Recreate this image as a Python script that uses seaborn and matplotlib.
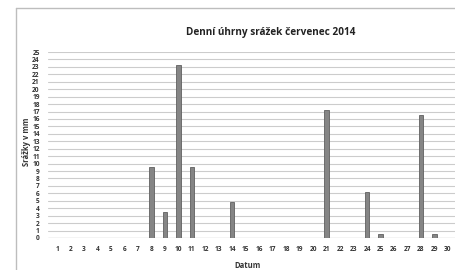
import matplotlib
matplotlib.use("Agg")
import matplotlib.pyplot as plt
import seaborn as sns
import pandas as pd
from matplotlib.lines import Line2D

# daily precipitation, July 2014
days = list(range(1, 31))
rain = [0, 0, 0, 0, 0, 0, 0, 9.6, 3.5, 23.2,
        9.6, 0, 0, 4.8, 0, 0, 0, 0, 0, 0,
        17.2, 0, 0, 6.2, 0.6, 0, 0, 16.5, 0.6, 0]
title = "Denní úhrny srážek červenec 2014"
xlabel = "Datum"
ylabel = "Srážky v mm"

df = pd.DataFrame({"den": days, "mm": rain})

sns.set_style("white")
plt.rcParams["font.family"] = ["Open Sans", "DejaVu Sans"]

W, H = 456, 270
fig = plt.figure(figsize=(W / 100, H / 100), dpi=100)
ax = fig.add_axes([48 / W, (H - 238) / H, (W - 48) / W, (238 - 52) / H])

sns.barplot(data=df, x="den", y="mm", order=days, color="#858585",
            width=0.33, edgecolor="#606060", linewidth=0.6, saturation=1,
            ax=ax, zorder=3)

ax.set_xlim(-0.67, 29.6)
ax.set_ylim(0, 25)
ax.set_yticks(range(0, 26))
ax.yaxis.grid(True, color="#cccccc", linewidth=0.8, zorder=0)
ax.set_axisbelow(True)
for s in ax.spines.values():
    s.set_visible(False)
ax.axhline(0, color="#c0c0c0", linewidth=0.9, zorder=1)

ax.tick_params(axis="both", length=0, labelsize=4.7, colors="#333333")
ax.tick_params(axis="y", pad=6)
ax.tick_params(axis="x", pad=6)
for lab in ax.get_xticklabels() + ax.get_yticklabels():
    lab.set_fontweight("bold")

ax.set_xlabel("")
ax.set_ylabel("")
fig.text(248 / W, 1 - 265 / H, xlabel, ha="center", va="center",
         fontsize=5.5, fontweight="bold", color="#333333")
fig.text(27 / W, 1 - 142 / H, ylabel, ha="center", va="center",
         rotation=90, fontsize=5.5, fontweight="bold", color="#333333")
fig.text(271 / W, 1 - 32 / H, title, ha="center", va="center",
         fontsize=7.2, fontweight="bold", color="#222222")

# outer chart frame (left and top edges visible)
fig.add_artist(Line2D([16 / W, 16 / W], [0, 1 - 8 / H], transform=fig.transFigure,
                      color="#bdbdbd", linewidth=1))
fig.add_artist(Line2D([16 / W, 1], [1 - 8 / H, 1 - 8 / H], transform=fig.transFigure,
                      color="#bdbdbd", linewidth=1))

fig.savefig("out.png", dpi=100)
